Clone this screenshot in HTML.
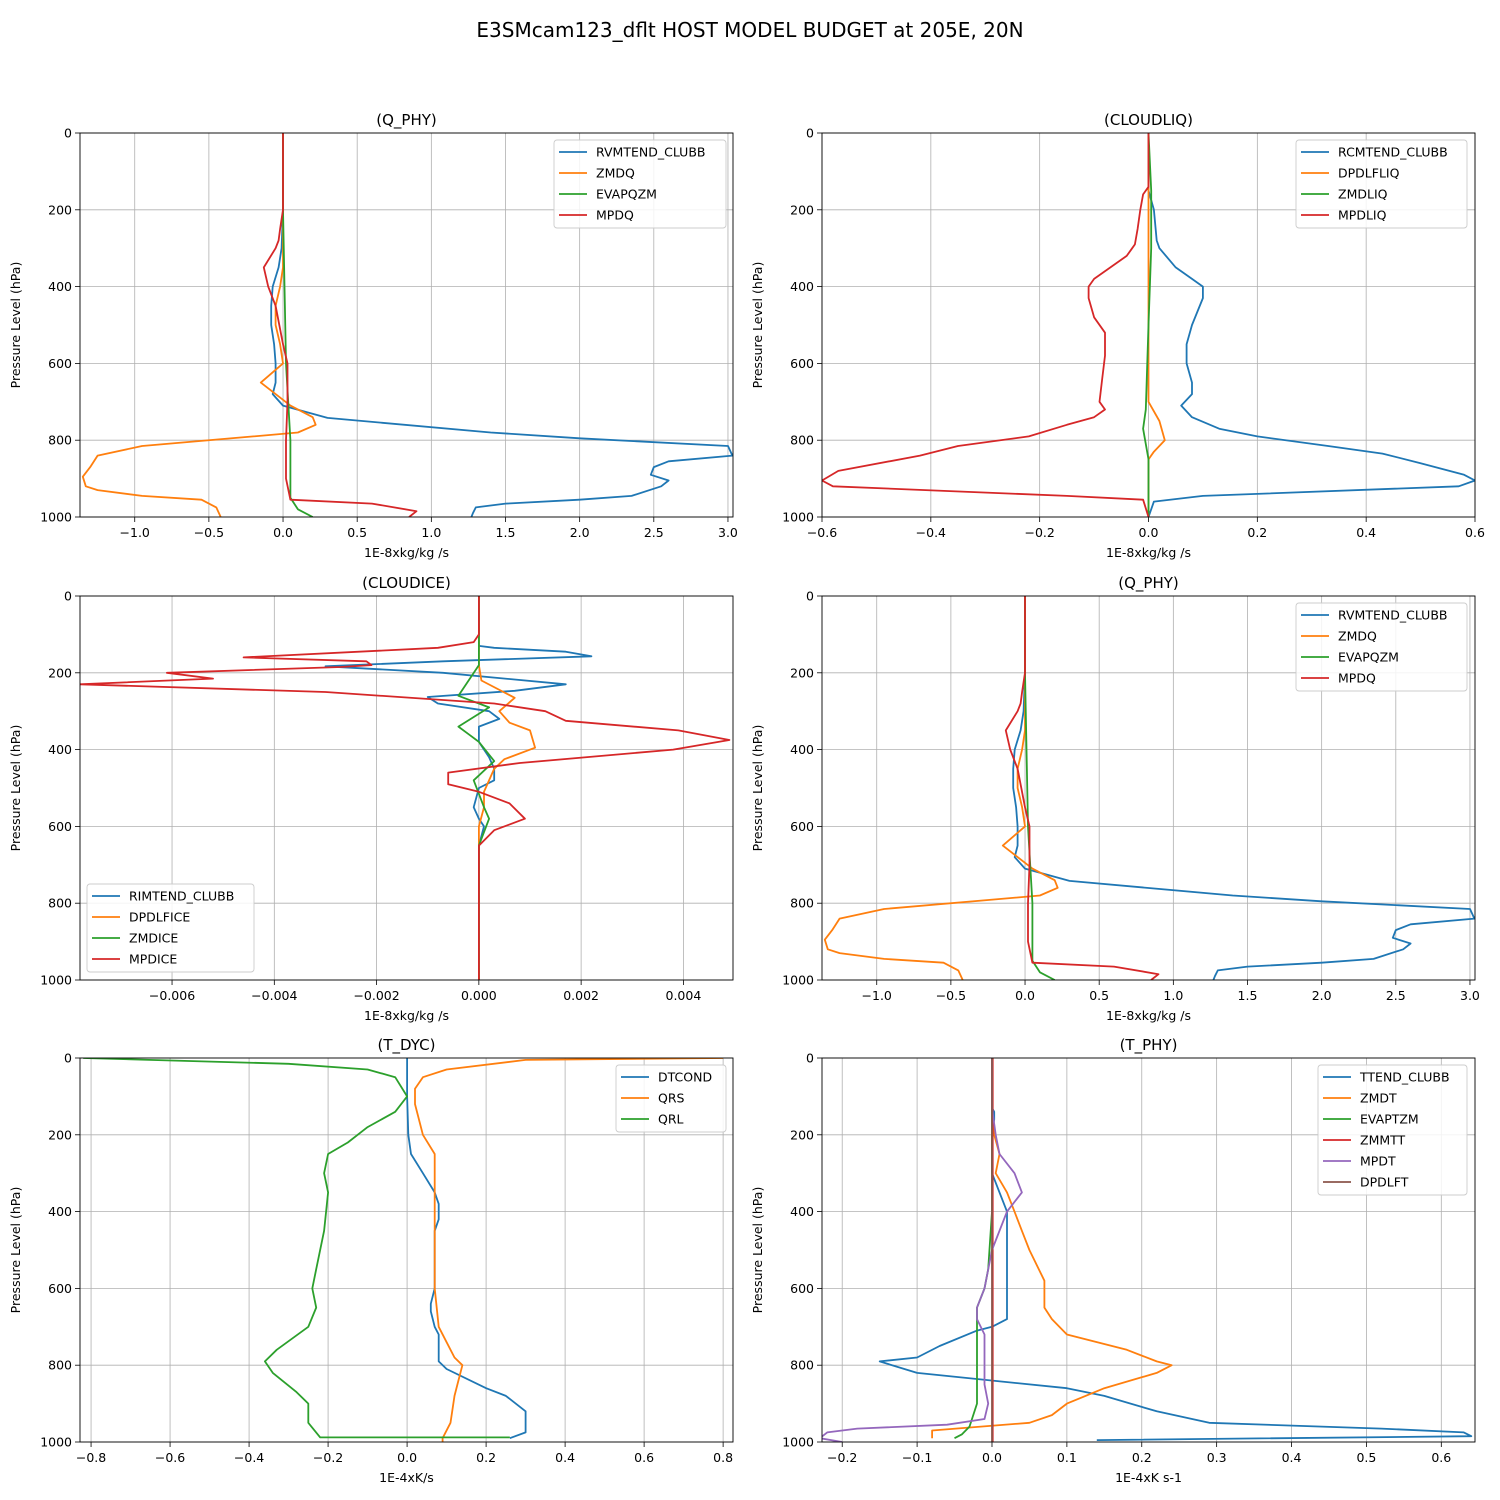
<!DOCTYPE html>
<html><head><meta charset="utf-8">
<style>
body{margin:0;background:#fff;}
svg{display:block;font-family:"DejaVu Sans","Liberation Sans",sans-serif;}
</style></head>
<body>
<svg id="fig" width="1500" height="1500" viewBox="0 0 1500 1500">
<text x="750" y="37" text-anchor="middle" font-size="20">E3SMcam123_dflt HOST MODEL BUDGET at 205E, 20N</text>
</svg>
<script>
// ---- data ----
const qp_rvm_p=[0,150,200,300,350,400,450,500,550,600,650,680,710,742,780,795,815,840,855,870,890,905,920,945,955,965,975,990,1000];
const qp_rvm_v=[0,0,0,-0.01,-0.03,-0.07,-0.08,-0.08,-0.06,-0.05,-0.05,-0.07,0.0,0.3,1.4,2.0,3.0,3.03,2.6,2.5,2.48,2.6,2.55,2.35,2.0,1.5,1.3,1.28,1.27];
const qp_zmdq_p=[0,350,400,450,500,550,600,650,680,710,740,760,780,790,815,840,870,895,920,930,945,955,975,1000];
const qp_zmdq_v=[0,0,-0.02,-0.05,-0.05,-0.02,0.0,-0.15,-0.05,0.05,0.2,0.22,0.1,-0.2,-0.95,-1.25,-1.3,-1.35,-1.33,-1.25,-0.95,-0.55,-0.45,-0.42];
const qp_evap_p=[0,200,400,600,800,950,980,1000];
const qp_evap_v=[0,0,0.01,0.02,0.05,0.05,0.1,0.2];
const qp_mpdq_p=[0,200,250,280,300,350,400,450,550,600,700,800,900,955,965,985,1000];
const qp_mpdq_v=[0,0,-0.02,-0.03,-0.05,-0.13,-0.1,-0.05,0,0.03,0.03,0.02,0.02,0.05,0.6,0.9,0.85];

const cl_rcm_p=[0,150,200,280,300,350,380,400,430,500,550,600,650,680,710,740,770,790,815,835,860,890,905,920,945,960,1000];
const cl_rcm_v=[0,0,0.01,0.015,0.02,0.05,0.08,0.1,0.1,0.08,0.07,0.07,0.08,0.08,0.06,0.08,0.13,0.2,0.33,0.43,0.5,0.58,0.6,0.57,0.1,0.01,0];
const cl_dpd_p=[0,700,750,800,830,850,1000];
const cl_dpd_v=[0,0,0.02,0.03,0.01,0,0];
const cl_zmd_p=[0,150,300,500,720,770,850,1000];
const cl_zmd_v=[0,0.005,0.005,0,-0.005,-0.01,0,0];
const cl_mpd_p=[0,140,160,200,250,290,300,320,350,380,400,430,480,520,580,640,700,720,740,760,790,815,840,880,905,920,945,955,1000];
const cl_mpd_v=[0,0,-0.01,-0.015,-0.02,-0.025,-0.03,-0.04,-0.07,-0.1,-0.11,-0.11,-0.1,-0.08,-0.08,-0.085,-0.09,-0.08,-0.1,-0.15,-0.22,-0.35,-0.42,-0.57,-0.6,-0.58,-0.15,-0.01,0];

const ci_rim_p=[0,130,135,145,157,170,183,200,230,247,263,280,300,320,340,380,420,450,480,500,550,580,600,650,1000];
const ci_rim_v=[0,0,0.0003,0.0017,0.0022,-0.0007,-0.003,-0.0007,0.0017,0.0007,-0.001,-0.0008,0.0002,0.0004,0.0,0.0,0.0002,0.0003,0.0003,0,-0.0001,0,0.0001,0,0];
const ci_dpd_p=[0,180,220,265,300,330,350,395,425,450,510,550,600,650,1000];
const ci_dpd_v=[0,0,0.00005,0.0007,0.0004,0.0006,0.001,0.0011,0.0005,0.0003,0.0001,0.0001,0,0,0];
const ci_zmd_p=[0,180,260,290,340,360,380,430,480,550,580,650,1000];
const ci_zmd_v=[0,0,-0.0004,0.0002,-0.0004,-0.0002,0,0.0003,-0.0001,0.0001,0.0002,0,0];
const ci_mpd_p=[0,100,120,135,160,170,180,185,200,215,230,250,280,300,325,350,375,400,435,460,490,510,540,580,610,650,1000];
const ci_mpd_v=[0,0,-0.0001,-0.0008,-0.0046,-0.0022,-0.0021,-0.0027,-0.0061,-0.0052,-0.0078,-0.003,0.0003,0.0013,0.0017,0.0039,0.0049,0.0038,0.0008,-0.0006,-0.0006,0.0,0.0006,0.0009,0.0003,0,0];

const td_dtc_p=[0,100,200,250,300,350,380,420,450,600,640,660,700,720,760,790,810,860,880,920,975,990];
const td_dtc_v=[0,0,0.003,0.01,0.04,0.07,0.08,0.08,0.07,0.07,0.06,0.06,0.07,0.08,0.08,0.08,0.1,0.2,0.25,0.3,0.3,0.26];
const td_qrs_p=[0,5,30,50,80,120,200,250,350,600,700,740,780,800,840,880,950,990,1000];
const td_qrs_v=[0.8,0.3,0.1,0.04,0.02,0.02,0.04,0.07,0.07,0.07,0.08,0.1,0.12,0.14,0.13,0.12,0.11,0.09,0.09];
const td_qrl_p=[0,15,30,50,100,140,180,220,250,300,350,450,550,600,650,700,760,790,820,870,900,950,988,988];
const td_qrl_v=[-0.82,-0.3,-0.1,-0.03,0,-0.03,-0.1,-0.15,-0.2,-0.21,-0.2,-0.21,-0.23,-0.24,-0.23,-0.25,-0.33,-0.36,-0.34,-0.28,-0.25,-0.25,-0.22,0.26];

const tp_tte_p=[0,130,140,160,200,300,350,400,430,500,600,660,680,700,710,750,780,790,820,860,880,920,950,965,975,985,995];
const tp_tte_v=[0,0,0.003,0.003,0,0,0.01,0.02,0.02,0.02,0.02,0.02,0.02,0.0,-0.02,-0.07,-0.1,-0.15,-0.1,0.1,0.15,0.22,0.29,0.52,0.63,0.64,0.14];
const tp_zmd_p=[0,130,200,250,300,350,400,450,500,580,650,680,720,760,790,800,820,860,900,930,950,970,990];
const tp_zmd_v=[0,0,0.003,0.01,0.005,0.02,0.03,0.04,0.05,0.07,0.07,0.08,0.1,0.18,0.22,0.24,0.22,0.15,0.1,0.08,0.05,-0.08,-0.08];
const tp_evp_p=[0,400,550,600,650,700,800,900,960,980,990];
const tp_evp_v=[0,0,-0.005,-0.01,-0.02,-0.02,-0.02,-0.02,-0.03,-0.04,-0.05];
const tp_zmm_p=[0,1000];
const tp_zmm_v=[0.001,0.001];
const tp_mpd_p=[0,130,200,250,300,350,400,500,600,650,680,720,850,900,940,955,965,975,990,1000];
const tp_mpd_v=[0,0,0.005,0.01,0.03,0.04,0.02,0,-0.01,-0.02,-0.02,-0.01,-0.01,-0.005,-0.01,-0.06,-0.18,-0.22,-0.23,-0.2];
const tp_dpd_p=[0,1000];
const tp_dpd_v=[0,0];

const C=['#1f77b4','#ff7f0e','#2ca02c','#d62728','#9467bd','#8c564b'];
const qpSeries=[[qp_rvm_p,qp_rvm_v,'RVMTEND_CLUBB'],[qp_zmdq_p,qp_zmdq_v,'ZMDQ'],[qp_evap_p,qp_evap_v,'EVAPQZM'],[qp_mpdq_p,qp_mpdq_v,'MPDQ']];
const qpTicks=[-1,-0.5,0,0.5,1,1.5,2,2.5,3];
const qpLabels=['−1.0','−0.5','0.0','0.5','1.0','1.5','2.0','2.5','3.0'];

const panels=[
 {x:80,y:133,title:'(Q_PHY)',xl:'1E-8xkg/kg /s',xmin:-1.369,xmax:3.034,ticks:qpTicks,labels:qpLabels,series:qpSeries,leg:{x:554,y:140,w:172}},
 {x:822,y:133,title:'(CLOUDLIQ)',xl:'1E-8xkg/kg /s',xmin:-0.6,xmax:0.6,ticks:[-0.6,-0.4,-0.2,0,0.2,0.4,0.6],labels:['−0.6','−0.4','−0.2','0.0','0.2','0.4','0.6'],
  series:[[cl_rcm_p,cl_rcm_v,'RCMTEND_CLUBB'],[cl_dpd_p,cl_dpd_v,'DPDLFLIQ'],[cl_zmd_p,cl_zmd_v,'ZMDLIQ'],[cl_mpd_p,cl_mpd_v,'MPDLIQ']],leg:{x:1296,y:140,w:171}},
 {x:80,y:596,title:'(CLOUDICE)',xl:'1E-8xkg/kg /s',xmin:-0.0078,xmax:0.00497,ticks:[-0.006,-0.004,-0.002,0,0.002,0.004],labels:['−0.006','−0.004','−0.002','0.000','0.002','0.004'],
  series:[[ci_rim_p,ci_rim_v,'RIMTEND_CLUBB'],[ci_dpd_p,ci_dpd_v,'DPDLFICE'],[ci_zmd_p,ci_zmd_v,'ZMDICE'],[ci_mpd_p,ci_mpd_v,'MPDICE']],leg:{x:87,y:884,w:167}},
 {x:822,y:596,title:'(Q_PHY)',xl:'1E-8xkg/kg /s',xmin:-1.369,xmax:3.034,ticks:qpTicks,labels:qpLabels,series:qpSeries,leg:{x:1296,y:603,w:171}},
 {x:80,y:1058,title:'(T_DYC)',xl:'1E-4xK/s',xmin:-0.828,xmax:0.825,ticks:[-0.8,-0.6,-0.4,-0.2,0,0.2,0.4,0.6,0.8],labels:['−0.8','−0.6','−0.4','−0.2','0.0','0.2','0.4','0.6','0.8'],
  series:[[td_dtc_p,td_dtc_v,'DTCOND'],[td_qrs_p,td_qrs_v,'QRS'],[td_qrl_p,td_qrl_v,'QRL']],leg:{x:616,y:1065,w:110}},
 {x:822,y:1058,title:'(T_PHY)',xl:'1E-4xK s-1',xmin:-0.227,xmax:0.645,ticks:[-0.2,-0.1,0,0.1,0.2,0.3,0.4,0.5,0.6],labels:['−0.2','−0.1','0.0','0.1','0.2','0.3','0.4','0.5','0.6'],
  series:[[tp_tte_p,tp_tte_v,'TTEND_CLUBB'],[tp_zmd_p,tp_zmd_v,'ZMDT'],[tp_evp_p,tp_evp_v,'EVAPTZM'],[tp_zmm_p,tp_zmm_v,'ZMMTT'],[tp_mpd_p,tp_mpd_v,'MPDT'],[tp_dpd_p,tp_dpd_v,'DPDLFT']],leg:{x:1318,y:1065,w:149}}
];
const NS='http://www.w3.org/2000/svg';
const fig=document.getElementById('fig');
function mk(tag,attrs,parent,text){const e=document.createElementNS(NS,tag);for(const k in attrs)e.setAttribute(k,attrs[k]);if(text!==undefined)e.textContent=text;parent.appendChild(e);return e;}
const W=653,H=384;
panels.forEach((P,pi)=>{
 const g=mk('g',{},fig);
 
 
 const sx=v=>P.x+(v-P.xmin)/(P.xmax-P.xmin)*W;
 const sy=p=>P.y+p/1000*H;
 const cid='clip'+pi;
 const cp=mk('clipPath',{id:cid},g);mk('rect',{x:P.x,y:P.y,width:W,height:H},cp);
 P.ticks.forEach((t,i)=>{const X=sx(t);
  const gl=mk('line',{x1:X,x2:X,y1:P.y,y2:P.y+H,stroke:'#b0b0b0','stroke-width':0.8},g);
  
  mk('line',{x1:X,x2:X,y1:P.y+H,y2:P.y+H+5,stroke:'#000','stroke-width':0.8},g);
  const tl=mk('text',{x:X,y:P.y+H+20,'text-anchor':'middle','font-size':12.5},g,P.labels[i]);
  
 });
 [0,200,400,600,800,1000].forEach(p=>{const Y=sy(p);
  mk('line',{x1:P.x,x2:P.x+W,y1:Y,y2:Y,stroke:'#b0b0b0','stroke-width':0.8},g);
  mk('line',{x1:P.x-5,x2:P.x,y1:Y,y2:Y,stroke:'#000','stroke-width':0.8},g);
  const tl=mk('text',{x:P.x-8,y:Y+4.5,'text-anchor':'end','font-size':12.5},g,String(p));
  
 });
 P.series.forEach((s,si)=>{
  const pts=s[0].map((p,k)=>sx(s[1][k]).toFixed(1)+','+sy(p).toFixed(1)).join(' ');
  const pl=mk('polyline',{points:pts,fill:'none',stroke:C[si],'stroke-width':1.8,'clip-path':'url(#'+cid+')','stroke-linejoin':'round'},g);
  
  
 });
 const fr=mk('rect',{x:P.x,y:P.y,width:W,height:H,fill:'none',stroke:'#000','stroke-width':0.9},g);
 
 const t=mk('text',{x:P.x+W/2,y:P.y-8,'text-anchor':'middle','font-size':15},g,P.title);
 
 const xl=mk('text',{x:P.x+W/2,y:P.y+H+40,'text-anchor':'middle','font-size':12.5},g,P.xl);
 
 const yl=mk('text',{x:0,y:0,'text-anchor':'middle','font-size':12.5,transform:'translate('+(P.x-60)+','+(P.y+H/2)+') rotate(-90)'},g,'Pressure Level (hPa)');
 
 const L=P.leg,n=P.series.length,lh=n*21+4;
 const lg=mk('g',{},g);
 
 mk('rect',{x:L.x,y:L.y,width:L.w,height:lh,rx:3,fill:'#fff','fill-opacity':0.85,stroke:'#ccc','stroke-width':0.9},lg);
 P.series.forEach((s,si)=>{const Y=L.y+12+si*21;
  const e=mk('g',{},lg);
  
  mk('line',{x1:L.x+5,x2:L.x+33,y1:Y,y2:Y,stroke:C[si],'stroke-width':1.8},e);
  mk('text',{x:L.x+42,y:Y+4.5,'font-size':12.5},e,s[2]);
 });
});
</script>
</body></html>
